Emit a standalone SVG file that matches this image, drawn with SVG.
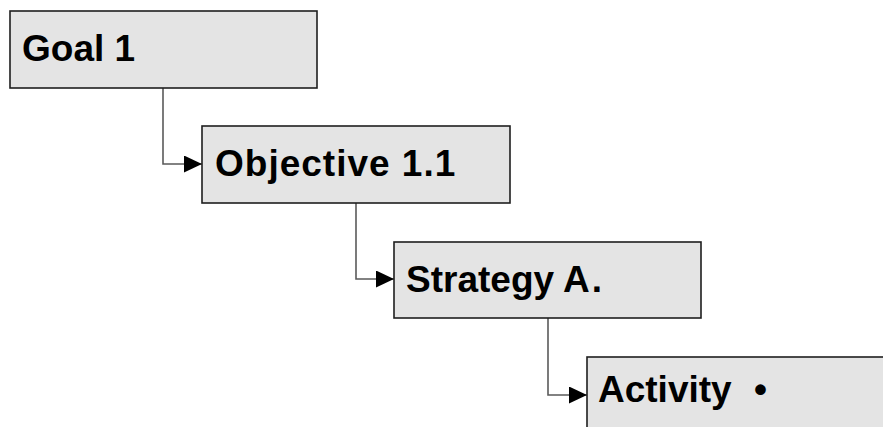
<svg xmlns="http://www.w3.org/2000/svg" width="883" height="427" viewBox="0 0 883 427">
<style>
.box{fill:#e4e4e4;stroke:#1e1e1e;stroke-width:1.6}
.lbl{font-family:"Liberation Sans",Arial,sans-serif;font-weight:bold;font-size:37px;fill:#000}
.conn{fill:none;stroke:#5a5a5a;stroke-width:1.6}
</style>
<defs>
<marker id="arr" markerWidth="18" markerHeight="17" refX="18" refY="8.5" orient="auto" markerUnits="userSpaceOnUse">
<path d="M0,0 L18,8.5 L0,17 Z" fill="#000"/>
</marker>
</defs>
<rect width="883" height="427" fill="#fff"/>
<g id="connectors">
<path class="conn" d="M163,88 V164 H202" marker-end="url(#arr)"/>
<path class="conn" d="M356,203 V279 H394" marker-end="url(#arr)"/>
<path class="conn" d="M548,318 V395 H587" marker-end="url(#arr)"/>
</g>
<g id="goal1">
<rect class="box" x="10" y="11" width="307" height="77"/>
<text class="lbl" x="22" y="61">Goal 1</text>
</g>
<g id="objective11">
<rect class="box" x="202" y="126" width="308" height="77"/>
<text class="lbl" x="215" y="176" letter-spacing="1">Objective 1.1</text>
</g>
<g id="strategyA">
<rect class="box" x="394" y="242" width="307" height="76"/>
<text class="lbl" x="406" y="292">Strategy A<tspan dx="2">.</tspan></text>
</g>
<g id="activity">
<rect class="box" x="587" y="357" width="310" height="80"/>
<text class="lbl" x="598" y="402">Activity <tspan dx="12">•</tspan></text>
</g>
</svg>
